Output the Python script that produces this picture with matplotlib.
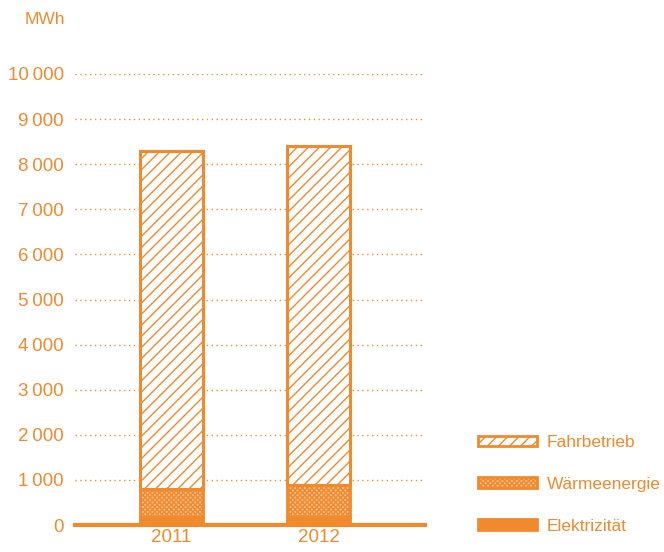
import matplotlib
matplotlib.use("Agg")
from matplotlib import pyplot as plt
from matplotlib.patches import Patch

plt.rcParams['font.family'] = ['Liberation Sans', 'DejaVu Sans']
plt.rcParams['hatch.linewidth'] = 1.0

years = ["2011", "2012"]
elektrizitaet = [180, 180]
waerme = [620, 710]
fahrbetrieb = [7490, 7510]
yticks = [0, 1000, 2000, 3000, 4000, 5000, 6000, 7000, 8000, 9000, 10000]

orange = "#F08A2C"
light = "#F7BE8C"


def fmt(v):
    if v < 1000:
        return "%d" % v
    return "%d\u2009%03d" % (v // 1000, v % 1000)


fig = plt.figure(figsize=(6.64, 5.52), dpi=100)
ax = fig.add_axes([75 / 664, 27 / 552, 350 / 664, 451 / 552])

x = [0, 1]
w = 0.43
bottom2 = [a + b for a, b in zip(elektrizitaet, waerme)]

ax.bar(x, elektrizitaet, width=w, color=orange, edgecolor=orange, linewidth=2, zorder=3)
ax.bar(x, waerme, width=w, bottom=elektrizitaet, color=light, edgecolor=orange,
       hatch="xxxxxxx", linewidth=2, zorder=3)
ax.bar(x, fahrbetrieb, width=w, bottom=bottom2, color="white", edgecolor=orange,
       hatch="///", linewidth=2.2, zorder=3)

ax.set_xlim(-0.656, 1.724)
ax.set_ylim(0, 10000)

for v in yticks[1:]:
    ax.axhline(v, color=orange, linestyle=(0, (1, 2.5)), linewidth=1, zorder=1)
ax.axhline(0, color=orange, linewidth=3, zorder=4, clip_on=False)

for s in ax.spines.values():
    s.set_visible(False)

ax.set_xticks(x)
ax.set_xticklabels(years)
ax.set_yticks(yticks)
ax.set_yticklabels([fmt(v) for v in yticks])
ax.tick_params(axis="both", length=0, labelsize=13.5, labelcolor=orange)
ax.tick_params(axis="y", pad=8)
ax.tick_params(axis="x", pad=3)

fig.text(65 / 664, 1 - 20 / 552, "MWh", ha="right", va="center", color=orange, fontsize=12.5)

handles = [
    Patch(facecolor="white", edgecolor=orange, hatch="///", linewidth=2, label="Fahrbetrieb"),
    Patch(facecolor=light, edgecolor=orange, hatch="xxxxxxx", linewidth=2, label="Wärmeenergie"),
    Patch(facecolor=orange, edgecolor=orange, linewidth=2, label="Elektrizität"),
]
leg = fig.legend(handles=handles, loc="upper left", bbox_to_anchor=(471 / 664, 1 - 428 / 552),
                 frameon=False, handlelength=3.4, handleheight=0.55, labelspacing=1.55,
                 handletextpad=0.55, fontsize=12.5, borderaxespad=0)
for t in leg.get_texts():
    t.set_color(orange)

fig.savefig("out.png", dpi=100)
